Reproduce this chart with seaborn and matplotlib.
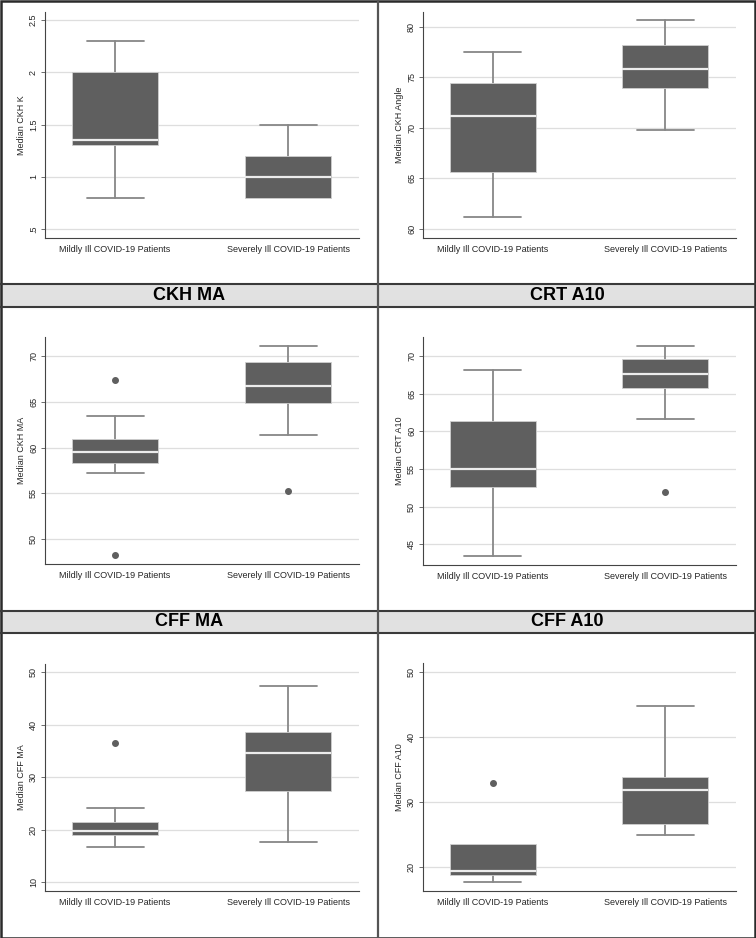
"""
Box plots of median viscoelastic measures, mildly vs severely ill COVID-19 patients.
"""

import numpy as np
import matplotlib.pyplot as plt
import seaborn as sns
from matplotlib.lines import Line2D
from matplotlib.patches import Rectangle

# Groups on the x axis
groups = ['Mildly Ill COVID-19 Patients', 'Severely Ill COVID-19 Patients']

# Five-number summaries:
# [lower whisker, Q1, median, Q3, upper whisker]
ckh_k_mild = [0.8, 1.3, 1.35, 2.0, 2.3]
ckh_k_severe = [0.8, 0.8, 1.0, 1.2, 1.5]

ckh_angle_mild = [61.2, 65.6, 71.2, 74.4, 77.5]
ckh_angle_severe = [69.8, 74.0, 75.8, 78.2, 80.7]

ckh_ma_mild = [57.2, 58.3, 59.5, 60.9, 63.4]
ckh_ma_severe = [61.4, 64.9, 66.7, 69.4, 71.1]

crt_a10_mild = [43.5, 52.6, 55.0, 61.4, 68.2]
crt_a10_severe = [61.6, 65.8, 67.6, 69.6, 71.3]

cff_ma_mild = [16.8, 19.0, 19.7, 21.4, 24.1]
cff_ma_severe = [17.7, 27.4, 34.6, 38.6, 47.5]

cff_a10_mild = [17.6, 18.7, 19.4, 23.5, 23.5]
cff_a10_severe = [24.9, 26.6, 31.8, 33.8, 44.8]

# Outside values
ckh_ma_mild_out = [67.4, 48.2]
ckh_ma_severe_out = [55.3]
crt_a10_severe_out = [51.9]
cff_ma_mild_out = [36.5]
cff_a10_mild_out = [32.9]

# Y axis ticks and labels
ckh_k_ticks = [0.5, 1, 1.5, 2, 2.5]
ckh_k_ticklabels = ['.5', '1', '1.5', '2', '2.5']
ckh_angle_ticks = [60, 65, 70, 75, 80]
ckh_ma_ticks = [50, 55, 60, 65, 70]
crt_a10_ticks = [45, 50, 55, 60, 65, 70]
cff_ma_ticks = [10, 20, 30, 40, 50]
cff_a10_ticks = [20, 30, 40, 50]

W, H = 756, 938
BOX_FILL = '#5f5f5f'
WHISKER = '#878787'
HEADER_FILL = '#e1e1e1'


def px_axes(fig, x0, y0, x1, y1):
    """Add axes from pixel box (top-left origin)."""
    return fig.add_axes([x0 / W, 1 - y1 / H, (x1 - x0) / W, (y1 - y0) / H])


def make_stats(summary, outliers):
    lo, q1, med, q3, hi = summary
    return dict(whislo=lo, q1=q1, med=med, q3=q3, whishi=hi, fliers=np.array(outliers))


def draw_panel(ax, mild, severe, mild_out, severe_out, ylabel, ticks, ticklabels, ylim):
    summaries = [mild, severe]
    stats = [make_stats(mild, mild_out), make_stats(severe, severe_out)]
    parts = ax.bxp(stats, positions=[0, 1], widths=0.5, capwidths=0.33,
                   patch_artist=True, showfliers=True,
                   boxprops=dict(facecolor=BOX_FILL, edgecolor='#cfcfcf', linewidth=0.6, zorder=3),
                   medianprops=dict(color='#ececec', linewidth=1.6, zorder=4),
                   whiskerprops=dict(color=WHISKER, linewidth=1.3, zorder=2),
                   capprops=dict(color=WHISKER, linewidth=1.3, zorder=2),
                   flierprops=dict(marker='o', markerfacecolor=BOX_FILL, markeredgecolor=BOX_FILL,
                                   markersize=4.0, zorder=4))
    # no cap when the whisker ends at the box edge
    for i, s in enumerate(summaries):
        if s[0] == s[1]:
            parts['caps'][2 * i].set_visible(False)
        if s[4] == s[3]:
            parts['caps'][2 * i + 1].set_visible(False)

    ax.set_xlim(-0.405, 1.41)
    ax.set_ylim(*ylim)
    ax.set_xticks([0, 1])
    ax.set_xticklabels(groups, fontsize=6.5)
    ax.set_yticks(ticks)
    ax.set_yticklabels(ticklabels if ticklabels else [str(t) for t in ticks],
                       rotation=90, va='center', fontsize=6.5)
    ax.set_ylabel(ylabel, fontsize=6.5, labelpad=2)
    ax.tick_params(axis='x', length=0, pad=5)
    ax.tick_params(axis='y', length=3, width=0.6, color='#555555', pad=2, left=True)
    ax.grid(axis='y', color='#dedede', linewidth=0.9, zorder=0)
    ax.grid(axis='x', visible=False)
    ax.set_axisbelow(True)
    sns.despine(ax=ax)
    for side in ['left', 'bottom']:
        ax.spines[side].set_color('#444444')
        ax.spines[side].set_linewidth(0.8)


sns.set_theme(style='white')
plt.rcParams['font.family'] = ['Liberation Sans', 'DejaVu Sans']

fig = plt.figure(figsize=(W / 100, H / 100), dpi=100)
fig.patch.set_facecolor('white')

# Panel headers for the lower two rows
for top, bottom, titles in [(284, 307, ['CKH MA', 'CRT A10']),
                            (611, 633, ['CFF MA', 'CFF A10'])]:
    fig.add_artist(Rectangle((0, 1 - bottom / H), 1, (bottom - top) / H,
                             transform=fig.transFigure, facecolor=HEADER_FILL,
                             edgecolor='none', zorder=0))
    for yy in (top, bottom):
        fig.add_artist(Line2D([0, 1], [1 - yy / H] * 2, transform=fig.transFigure,
                              color='#3a3a3a', linewidth=1.5))
    for xc, title in zip([189, 567], titles):
        fig.text(xc / W, 1 - (top + bottom) / 2 / H, title, ha='center', va='center',
                 fontsize=13, fontweight='bold', color='black')

# Frame lines
fig.add_artist(Line2D([377.5 / W] * 2, [0, 1], transform=fig.transFigure,
                      color='#555555', linewidth=1.6))
fig.add_artist(Rectangle((0.5 / W, 0.5 / H), (W - 1.5) / W, (H - 1.5) / H,
                         transform=fig.transFigure, facecolor='none',
                         edgecolor='#2a2a2a', linewidth=1.8))

ax = px_axes(fig, 45, 12, 359, 238)
draw_panel(ax, ckh_k_mild, ckh_k_severe, [], [], 'Median CKH K',
           ckh_k_ticks, ckh_k_ticklabels, (0.414, 2.577))

ax = px_axes(fig, 423, 12, 736, 238)
draw_panel(ax, ckh_angle_mild, ckh_angle_severe, [], [], 'Median CKH Angle',
           ckh_angle_ticks, None, (59.1, 81.48))

ax = px_axes(fig, 45, 337, 359, 564)
draw_panel(ax, ckh_ma_mild, ckh_ma_severe, ckh_ma_mild_out, ckh_ma_severe_out,
           'Median CKH MA', ckh_ma_ticks, None, (47.27, 72.08))

ax = px_axes(fig, 423, 337, 736, 565)
draw_panel(ax, crt_a10_mild, crt_a10_severe, [], crt_a10_severe_out,
           'Median CRT A10', crt_a10_ticks, None, (42.25, 72.53))

ax = px_axes(fig, 45, 664, 359, 891)
draw_panel(ax, cff_ma_mild, cff_ma_severe, cff_ma_mild_out, [],
           'Median CFF MA', cff_ma_ticks, None, (8.34, 51.6))

ax = px_axes(fig, 423, 663, 736, 891)
draw_panel(ax, cff_a10_mild, cff_a10_severe, cff_a10_mild_out, [],
           'Median CFF A10', cff_a10_ticks, None, (16.24, 51.45))

fig.savefig('out.png', dpi=100)
